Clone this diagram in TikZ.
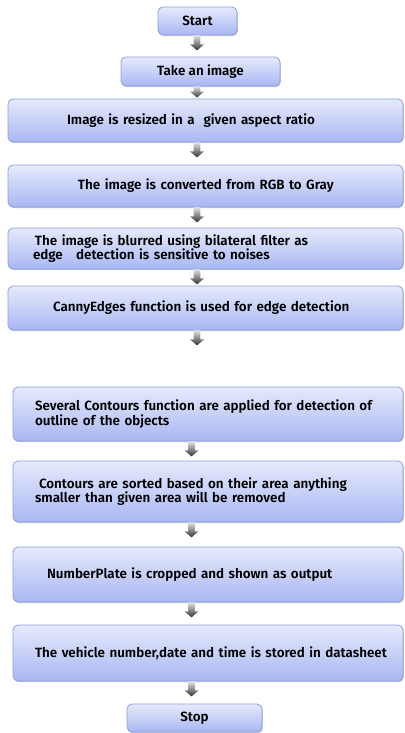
\documentclass[tikz,border=0pt]{standalone}
\usepackage{fontspec}
\setmainfont{Fira Sans}[BoldFont={Fira Sans SemiBold}]
\usetikzlibrary{calc,shadows}
\definecolor{boxtop}{HTML}{E6EAFC}
\definecolor{boxbot}{HTML}{A9B7F3}
\definecolor{boxline}{HTML}{8C9FE2}
\definecolor{arrtop}{HTML}{E2E2E2}
\definecolor{arrbot}{HTML}{333333}
\tikzset{
  proc/.style={draw=boxline, line width=0.8pt, rounded corners=5pt,
    top color=boxtop, bottom color=boxbot, inner sep=0pt,
    drop shadow={shadow xshift=0.8pt, shadow yshift=-1.2pt, opacity=0.22, fill=black},
    font=\fontsize{13.4}{12}\selectfont\bfseries},
  arrowshade/.style={top color=arrtop, bottom color=arrbot, draw=none}
}
\newcommand\blk[3]{%
  \shade[arrowshade] let \p1=(#1), \p2=(#2), \p3=(#3),
    \n1={max(\y1-15pt,\y2+1pt)} in
   (\x3-3.4pt,\y1) -- (\x3+3.4pt,\y1) -- (\x3+3.4pt,\n1+6pt) -- (\x3+7pt,\n1+6pt)
   -- (\x3,\n1) -- (\x3-7pt,\n1+6pt) -- (\x3-3.4pt,\n1+6pt) -- cycle;}
\begin{document}
\begin{tikzpicture}[x=1pt,y=-1pt]
\useasboundingbox (0,0) rectangle (404,733);
\coordinate (xa) at (197,0);
\coordinate (xb) at (191.5,0);
\node[proc, minimum width=79pt, minimum height=28pt] (start) at (197.5,21) {Start};
\node[proc, minimum width=159pt, minimum height=29pt] (take) at (200.5,71.5) {Take an image};
\node[proc, minimum width=395pt, minimum height=43pt, text width=395pt, align=left] (b3) at (205.5,120.5)
  {\hspace*{59pt}Image is resized in a\ \ given aspect ratio};
\node[proc, minimum width=395pt, minimum height=42pt, text width=395pt, align=left] (b4) at (205.5,186)
  {\hspace*{70pt}The image is converted from RGB to Gray};
\node[proc, minimum width=395pt, minimum height=41pt, text width=395pt, align=left] (b5) at (205.5,248.5)
  {\hspace*{27pt}The image is blurred using bilateral filter as\\\hspace*{25pt}edge\ \ \ detection is sensitive to noises};
\node[proc, minimum width=395pt, minimum height=44pt, text width=395pt, align=left] (b6) at (205.5,308)
  {\hspace*{45pt}CannyEdges function is used for edge detection};
\node[proc, minimum width=390pt, minimum height=54pt, text width=390pt, align=left] (b7) at (208,414)
  {\hspace*{22pt}Several Contours function are applied for detection of\\\hspace*{22pt}outline of the objects};
\node[proc, minimum width=390pt, minimum height=61pt, text width=390pt, align=left] (b8) at (208,491.5)
  {\hspace*{26pt}Contours are sorted based on their area anything\\\hspace*{22pt}smaller than given area will be removed};
\node[proc, minimum width=390pt, minimum height=55pt, text width=390pt, align=left] (b9) at (208,574.5)
  {\hspace*{34pt}NumberPlate is cropped and shown as output};
\node[proc, minimum width=390pt, minimum height=56pt, text width=390pt, align=left] (b10) at (208,653)
  {\hspace*{22pt}The vehicle number,date and time is stored in datasheet};
\node[proc, minimum width=135pt, minimum height=28pt] (stop) at (194.5,718) {Stop};
\coordinate (free) at (197,347);
\blk{start.south}{take.north}{xa}
\blk{take.south}{b3.north}{xa}
\blk{b3.south}{b4.north}{xa}
\blk{b4.south}{b5.north}{xa}
\blk{b5.south}{b6.north}{xa}
\blk{b6.south}{free}{xa}
\blk{b7.south}{b8.north}{xb}
\blk{b8.south}{b9.north}{xb}
\blk{b9.south}{b10.north}{xb}
\blk{b10.south}{stop.north}{xb}
\end{tikzpicture}
\end{document}
